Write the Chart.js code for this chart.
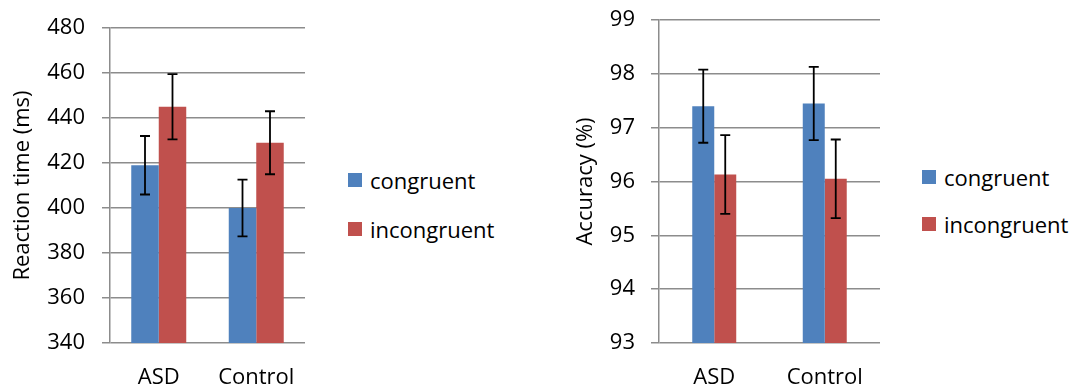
<!DOCTYPE html>
<html>
<head>
<meta charset="utf-8">
<script src="https://cdn.jsdelivr.net/npm/chart.js@4/dist/chart.umd.min.js"></script>
<style>
  body { margin: 0; background: #fff; width: 1078px; height: 392px; position: relative; overflow: hidden; font-family: "Open Sans", sans-serif; }
  .box { position: absolute; top: 0; height: 392px; }
  .legend { position: absolute; font-size: 22px; color: #000; }
  .legend .item { display: flex; align-items: center; height: 26px; position: absolute; left: 0; white-space: nowrap; }
  .legend .sw { width: 14px; height: 14px; margin-right: 8px; }
</style>
</head>
<body>
<div class="box" style="left:0;width:315px"><canvas id="rtChart"></canvas></div>
<div class="box" style="left:540px;width:350px"><canvas id="accChart"></canvas></div>
<div class="legend" id="rtLegend" style="left:348px;top:167px"></div>
<div class="legend" id="accLegend" style="left:922px;top:164px"></div>
<script>
const groups      = ["ASD", "Control"];
const seriesNames = ["congruent", "incongruent"];
const seriesColors = ["#4F81BD", "#C0504D"];

// reaction time (ms)
const rtCongruent    = [419, 400];
const rtIncongruent  = [445, 429];
const rtCongErr      = [13, 12.6];
const rtIncongErr    = [14.5, 14];
const rtTicks        = [340, 360, 380, 400, 420, 440, 460, 480];

// accuracy (%)
const accCongruent   = [97.4, 97.45];
const accIncongruent = [96.13, 96.05];
const accCongErr     = [0.68, 0.68];
const accIncongErr   = [0.73, 0.73];
const accTicks       = [93, 94, 95, 96, 97, 98, 99];

const gridGray = "#8c8c8c";
const font22 = { family: "'Open Sans', sans-serif", size: 22 };

Chart.defaults.color = "#000";
Chart.defaults.font.family = font22.family;

// error bars drawn from dataset.errors
const errorBars = {
  id: "errorBars",
  afterDatasetsDraw(chart) {
    const ctx = chart.ctx;
    const y = chart.scales.y;
    ctx.save();
    ctx.strokeStyle = "#000";
    ctx.lineWidth = 1.8;
    chart.data.datasets.forEach((ds, i) => {
      const meta = chart.getDatasetMeta(i);
      meta.data.forEach((bar, j) => {
        const v = ds.data[j], e = ds.errors[j];
        const top = y.getPixelForValue(v + e);
        const bot = y.getPixelForValue(v - e);
        const x = bar.x, cap = 5;
        ctx.beginPath();
        ctx.moveTo(x, top); ctx.lineTo(x, bot);
        ctx.moveTo(x - cap, top); ctx.lineTo(x + cap, top);
        ctx.moveTo(x - cap, bot); ctx.lineTo(x + cap, bot);
        ctx.stroke();
      });
    });
    ctx.restore();
  }
};

function makeChart(id, opts) {
  return new Chart(document.getElementById(id), {
    type: "bar",
    data: {
      labels: groups,
      datasets: [
        { label: seriesNames[0], data: opts.cong, errors: opts.congErr, backgroundColor: seriesColors[0] },
        { label: seriesNames[1], data: opts.incong, errors: opts.incongErr, backgroundColor: seriesColors[1] }
      ]
    },
    options: {
      responsive: true,
      maintainAspectRatio: false,
      animation: false,
      categoryPercentage: opts.catPct,
      barPercentage: 1,
      layout: { padding: { top: opts.top, right: opts.right, left: 0, bottom: 0 } },
      datasets: { bar: { borderWidth: 0 } },
      scales: {
        x: {
          grid: { display: false },
          border: { display: false },
          ticks: { font: font22, padding: 14 },
          afterFit: s => { s.height = 49; }
        },
        y: {
          min: opts.ticks[0],
          max: opts.ticks[opts.ticks.length - 1],
          afterBuildTicks: s => { s.ticks = opts.ticks.map(v => ({ value: v })); },
          grid: { color: gridGray, lineWidth: 1.5, tickLength: 8 },
          border: { display: true, color: gridGray, width: 1.5 },
          ticks: { font: font22, padding: opts.tickPad },
          title: { display: true, text: opts.title, font: font22, padding: { top: opts.titlePad, bottom: 0 } },
          afterFit: s => { s.width = opts.axisW; s.paddingTop = 0; s.paddingBottom = 0; }
        }
      },
      plugins: { legend: { display: false }, tooltip: { enabled: false } }
    },
    plugins: [errorBars]
  });
}

makeChart("rtChart", {
  cong: rtCongruent, incong: rtIncongruent, congErr: rtCongErr, incongErr: rtIncongErr,
  ticks: rtTicks, title: "Reaction time (ms)", catPct: 0.564,
  top: 28, right: 10, axisW: 110, tickPad: 17, titlePad: 10
});

makeChart("accChart", {
  cong: accCongruent, incong: accIncongruent, congErr: accCongErr, incongErr: accIncongErr,
  ticks: accTicks, title: "Accuracy (%)", catPct: 0.398,
  top: 20, right: 10, axisW: 119, tickPad: 16, titlePad: 33
});

function buildLegend(id, gap) {
  const el = document.getElementById(id);
  el.innerHTML = seriesNames.map((n, i) => `
    <div class="item" style="top:${i * gap}px">
      <span class="sw" style="background:${seriesColors[i]}"></span>${n}
    </div>`).join("");
}
buildLegend("rtLegend", 49);
buildLegend("accLegend", 47);
</script>
</body>
</html>
